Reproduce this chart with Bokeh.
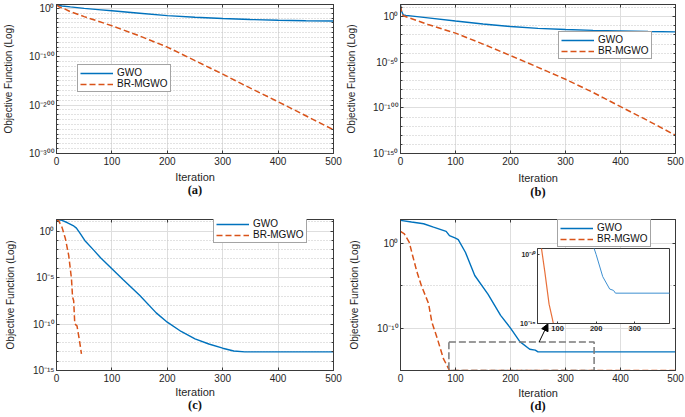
import numpy as np
from bokeh.plotting import figure
from bokeh.models import (FixedTicker, CustomJSTickFormatter, LogAxis, LinearAxis,
                          Legend, LegendItem, Arrow, NormalHead, GridBox)
from bokeh.embed import file_html
from bokeh.resources import INLINE

# ---------------- data (objective values given as log10) ----------------
# (a)
a_gwo_iter = [0, 10, 25, 50, 75, 100, 150, 200, 250, 300, 350, 400, 450, 500]
a_gwo_log10 = [7, 5, 3, 0, -2.5, -5, -10, -15, -18.5, -21, -23, -24.5, -25.5, -26]
a_br_iter = [0, 5, 13, 25, 50, 100, 150, 200, 250, 300, 350, 400, 450, 500]
a_br_log10 = [7, 3, 0, -7, -17, -36, -57, -80, -108, -136, -165, -193, -222, -251]
# (b)
b_gwo_iter = [0, 2, 5, 10, 50, 100, 150, 200, 250, 300, 350, 400, 450, 500]
b_gwo_log10 = [13, 6, 2, 1.5, -1.3, -4.7, -8, -10.8, -12.8, -14, -15, -15.5, -16.2, -16.6]
b_br_iter = [0, 2, 5, 50, 100, 150, 200, 250, 300, 350, 400, 450, 500]
b_br_log10 = [12, 5, 1, -8.5, -18, -30, -42.6, -55.5, -68.6, -83, -98.6, -114, -130]
# (c)
c_gwo_iter = [0, 10, 20, 30, 36, 42, 51, 68, 80, 100, 120, 150, 180, 200, 225, 250, 275, 300, 320, 340, 500]
c_gwo_log10 = [1.25, 1.15, 0.9, 0.6, 0.32, -0.2, -1.0, -2.1, -2.9, -4.05, -5.2, -6.9, -8.8, -9.8,
               -10.8, -11.6, -12.15, -12.6, -12.9, -13.0, -13.0]
c_br_iter = [0, 4, 10, 16, 22, 27, 29, 31, 33, 37, 41, 45]
c_br_log10 = [1.25, 1.1, 0.4, -0.8, -2.6, -5.1, -7.1, -7.5, -10.0, -10.2, -11.6, -13.2]
# (d)
d_gwo_iter = [0, 20, 42, 60, 83, 89, 100, 105, 118, 135, 159, 182, 200, 217, 235, 245, 250, 500]
d_gwo_log10 = [2.7, 2.5, 2.3, 1.9, 1.4, 0.9, 0.6, 0.43, -1.06, -3.8, -6.0, -8.5, -10.0, -11.6,
               -12.5, -12.6, -12.8, -12.8]
d_br_iter = [0, 7, 16, 22, 30, 38, 51, 57, 67, 78, 86, 89, 500]
d_br_log10 = [1.4, 1.1, 0.1, -1.45, -3.4, -5.0, -7.1, -9.3, -11.25, -13.6, -14.6, -15, -15]

# zoom window of panel (d) and its inset limits
zoom_iter = [88, 352]
zoom_log10 = [-15, -11.65]
inset_iter = [48, 390]
inset_log10 = [-15, -9.56]
arrow_from = (252, -11.65)
arrow_to = (268, -9.5)

series_names = ["GWO", "BR-MGWO"]
captions = ["(a)", "(b)", "(c)", "(d)"]
x_ticks = [0, 100, 200, 300, 400, 500]

# ---------------- style ----------------
BLUE = "#0072BD"
RED = "#D95319"
AX = "#3a3a3a"
TXT = "#262626"
SANS = "Liberation Sans"

SUP_JS = """
const s = {"0":"\\u2070","1":"\\u00B9","2":"\\u00B2","3":"\\u00B3","4":"\\u2074","5":"\\u2075",
           "6":"\\u2076","7":"\\u2077","8":"\\u2078","9":"\\u2079","-":"\\u207B"};
const e = Math.round(Math.log10(tick));
let out = "10";
for (const c of String(e)) { out += s[c]; }
return out;
"""


def pw(v):
    return 10.0 ** np.array(v, dtype=float)


def style_axis(ax, size="10px", bold=False, tin=3, mtin=2):
    ax.axis_line_color = AX
    ax.major_tick_line_color = AX
    ax.minor_tick_line_color = AX
    ax.major_tick_in = tin
    ax.major_tick_out = 0
    ax.minor_tick_in = mtin
    ax.minor_tick_out = 0
    ax.major_label_text_font = SANS
    ax.major_label_text_font_size = size
    ax.major_label_text_color = TXT
    if bold:
        ax.major_label_text_font_style = "bold"


def make_panel(w, h, bl, br, bt, bb, ylog, ymaj, ymin, data, leg_loc, caption, ylab_standoff,
               xlab_standoff, cap_standoff):
    p = figure(width=w, height=h, x_range=(0, 500), y_range=(10.0 ** ylog[0], 10.0 ** ylog[1]),
               y_axis_type="log", output_backend="svg", toolbar_location=None, title=None,
               min_border_left=bl, min_border_right=br, min_border_top=bt, min_border_bottom=bb,
               background_fill_color="white", border_fill_color="white")
    xt = FixedTicker(ticks=x_ticks, minor_ticks=[])
    yt = FixedTicker(ticks=list(pw(ymaj)), minor_ticks=list(pw(ymin)))
    xa = p.xaxis[0]
    ya = p.yaxis[0]
    xa.ticker = xt
    ya.ticker = yt
    ya.formatter = CustomJSTickFormatter(code=SUP_JS)
    style_axis(xa)
    style_axis(ya)
    xa.major_label_standoff = 3
    ya.major_label_standoff = 2
    xa.axis_label = "Iteration"
    xa.axis_label_text_font = SANS
    xa.axis_label_text_font_size = "11px"
    xa.axis_label_text_font_style = "normal"
    xa.axis_label_text_color = TXT
    xa.axis_label_standoff = xlab_standoff
    ya.axis_label = "Objective Function (Log)"
    ya.axis_label_text_font = SANS
    ya.axis_label_text_font_size = "10px"
    ya.axis_label_text_font_style = "normal"
    ya.axis_label_text_color = TXT
    ya.axis_label_standoff = ylab_standoff

    p.xgrid.ticker = xt
    p.ygrid.ticker = yt
    for g in (p.xgrid[0], p.ygrid[0]):
        g.grid_line_color = "#dedede"
        g.grid_line_width = 1
    p.ygrid.minor_grid_line_color = "#c4c4c4"
    p.ygrid.minor_grid_line_dash = "1 2"
    p.outline_line_color = AX
    p.outline_line_alpha = 1

    blank = CustomJSTickFormatter(code="return '';")
    ra = LogAxis(ticker=yt, formatter=blank, major_label_standoff=0, major_label_text_font_size="1px")
    style_axis(ra, size="1px")
    p.add_layout(ra, "right")
    ta = LinearAxis(ticker=xt, formatter=blank, major_label_standoff=0, major_label_text_font_size="1px")
    style_axis(ta, size="1px")
    p.add_layout(ta, "above")

    # caption "(a)" etc. as an unticked axis label below the x axis
    cap = LinearAxis(ticker=FixedTicker(ticks=[]), formatter=blank, axis_label=caption,
                     axis_line_color=None, major_tick_line_color=None, minor_tick_line_color=None,
                     major_tick_out=0, major_tick_in=0, minor_tick_out=0, minor_tick_in=0,
                     major_label_standoff=0, major_label_text_font_size="1px",
                     axis_label_standoff=cap_standoff, axis_label_text_font="Liberation Serif",
                     axis_label_text_font_size="12.5px", axis_label_text_font_style="bold",
                     axis_label_text_color="#111111")
    p.add_layout(cap, "below")

    (gi, gv), (bi, bv) = data
    r1 = p.line(gi, pw(gv), line_color=BLUE, line_width=1.4)
    r2 = p.line(bi, pw(bv), line_color=RED, line_width=1.5, line_dash="6 3")

    leg = Legend(items=[LegendItem(label=series_names[0], renderers=[r1]),
                        LegendItem(label=series_names[1], renderers=[r2])],
                 location=leg_loc, label_text_font=SANS, label_text_font_size="10px",
                 label_text_color="#111111", glyph_width=33, glyph_height=10, label_height=10,
                 label_standoff=4, padding=2, spacing=0, margin=0,
                 border_line_color="#4a4a4a", border_line_width=1,
                 background_fill_color="white", background_fill_alpha=1)
    p.add_layout(leg, "center")
    return p


pa = make_panel(342, 204, 49, 9, 4, 48, (-300, 8), [-300, -200, -100, 0],
                [v for v in range(-290, 8, 10) if v % 100 != 0],
                ((a_gwo_iter, a_gwo_log10), (a_br_iter, a_br_log10)), (21, 61), captions[0], 12, 3, -3)
pb = make_panel(343, 204, 51, 10, 3, 51, (-150, 13.4), [-150, -100, -50, 0],
                [v for v in range(-140, 14, 10) if v % 50 != 0],
                ((b_gwo_iter, b_gwo_log10), (b_br_iter, b_br_log10)), (158, 94), captions[1], 13, 4, -2)
pc = make_panel(342, 213, 48, 9, 15, 47, (-15, 1.25), [-15, -10, -5, 0],
                [v for v in range(-14, 2) if v % 5 != 0],
                ((c_gwo_iter, c_gwo_log10), (c_br_iter, c_br_log10)), (157, 127), captions[2], 14, 1, -3)
pd = make_panel(343, 213, 47, 10, 15, 47, (-15, 2.8), [-10, 0],
                [-5],
                ((d_gwo_iter, d_gwo_log10), (d_br_iter, d_br_log10)), (157, 123), captions[3], 14, 2, -3)

# zoom window and arrow in (d)
pd.quad(left=[zoom_iter[0]], right=[zoom_iter[1]], bottom=[10.0 ** zoom_log10[0]],
        top=[10.0 ** zoom_log10[1]], fill_color=None, line_color="#7a7a7a", line_width=1.5,
        line_dash="7 3")
pd.add_layout(Arrow(end=NormalHead(size=7, fill_color="black", line_color="black", line_width=1),
                    x_start=arrow_from[0], y_start=10.0 ** arrow_from[1],
                    x_end=arrow_to[0], y_end=10.0 ** arrow_to[1],
                    line_color="black", line_width=1))

# inset
pin = figure(width=162, height=89, x_range=(inset_iter[0], inset_iter[1]),
             y_range=(10.0 ** inset_log10[0], 10.0 ** inset_log10[1]), y_axis_type="log",
             output_backend="svg", toolbar_location=None, title=None,
             min_border_left=28, min_border_right=2, min_border_top=2, min_border_bottom=12,
             background_fill_color="white", border_fill_color=None)
pin.grid.visible = False
pin.outline_line_color = AX
ixt = FixedTicker(ticks=[100, 200, 300], minor_ticks=[])
iyt = FixedTicker(ticks=list(pw([-15, -10])), minor_ticks=[])
pin.xaxis[0].ticker = ixt
pin.yaxis[0].ticker = iyt
pin.yaxis[0].formatter = CustomJSTickFormatter(code=SUP_JS)
style_axis(pin.xaxis[0], size="7.5px", bold=True, tin=2)
style_axis(pin.yaxis[0], size="7px", bold=True, tin=2)
pin.xaxis[0].major_label_standoff = 2
pin.yaxis[0].major_label_standoff = 2
pin.line(d_gwo_iter, pw(d_gwo_log10), line_color="#3d8fd1", line_width=1)
pin.line(d_br_iter, pw(d_br_log10), line_color="#e8703a", line_width=1.2)

grid = GridBox(children=[(pa, 0, 0, 1, 1), (pb, 0, 1, 1, 3), (pc, 1, 0, 3, 1), (pd, 1, 1, 3, 3),
                         (pin, 2, 2, 1, 1)],
               rows=["204px", "42px", "89px", "82px"], cols=["342px", "167px", "162px", "14px"],
               spacing=0)

open("out.html", "w", encoding="utf-8").write(file_html(grid, INLINE))
